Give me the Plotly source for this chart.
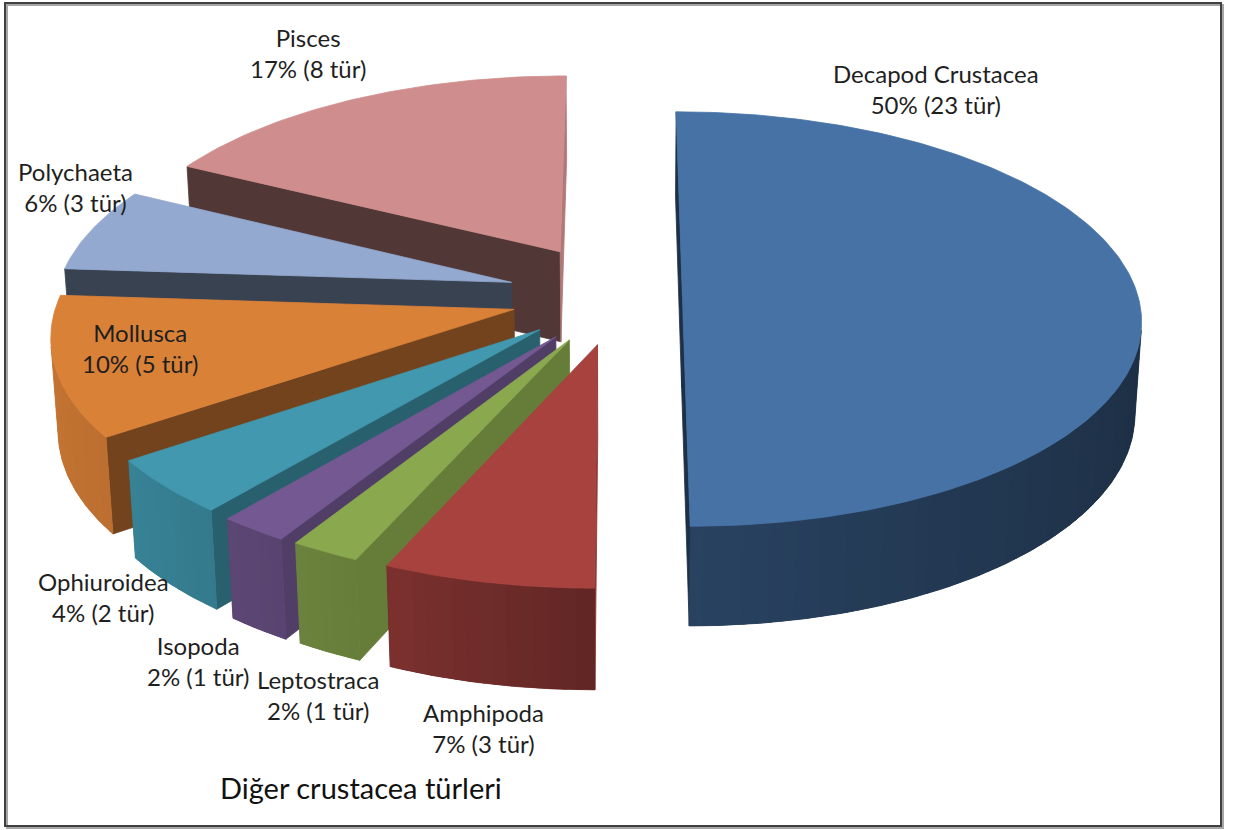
import numpy as np
import plotly.graph_objects as go

# ---------------- data ----------------
groups = ["Decapod Crustacea", "Amphipoda", "Leptostraca", "Isopoda",
          "Ophiuroidea", "Mollusca", "Polychaeta", "Pisces"]
species_count = [23, 3, 1, 1, 2, 5, 3, 8]
percent_text = ["50%", "7%", "2%", "2%", "4%", "10%", "6%", "17%"]
chart_title = "Diğer crustacea türleri"

# ---------------- style ----------------
top_colors = ["#4672A6", "#A7423F", "#8AA94F", "#735891",
              "#4198AF", "#DA8138", "#93A9CF", "#CF8E8D"]
explode = [0.137, 0.237, 0.236, 0.239, 0.237, 0.240, 0.249, 0.259]
label_xy = [(936, 89), (483, 728), (318, 695), (198, 661),
            (103, 597), (140, 348), (75, 187), (308, 53)]
title_xy = (361, 787)
FONT = "Lato"
TEXT_COLOR = "#1f1f1f"

# perspective camera for the tilted pie
ELEV = np.radians(26.7)
SE, CE = np.sin(ELEV), np.cos(ELEV)
DIST = 8.04
SCALE = 455.5
X0, Y0 = 620.0, 296.0
DEPTH = 0.228
CAM = np.array([0.0, DIST * SE, -DIST * CE])


def project(x, y, z):
    x, y, z = np.asarray(x, float), np.asarray(y, float), np.asarray(z, float)
    w = z * CE - y * SE
    v = y * CE + z * SE
    k = DIST / (DIST + w)
    return X0 + SCALE * x * k, Y0 - SCALE * v * k


def shade(hex_color, f):
    h = hex_color.lstrip("#")
    r, g, b = (int(h[i:i + 2], 16) for i in (0, 2, 4))
    return f"rgb({round(r * f)},{round(g * f)},{round(b * f)})"


def rim_factor(t_deg):
    t = t_deg % 360
    return float(np.interp(t, [150, 180, 215, 245, 270, 300, 330, 360],
                           [0.95, 0.92, 0.86, 0.75, 0.58, 0.50, 0.44, 0.40]))


def wall_factor(n_deg):
    n = n_deg % 360
    return float(np.interp(n, [0, 180, 245, 266, 305, 321, 329, 337, 360],
                           [0.85, 0.42, 0.39, 0.39, 0.52, 0.63, 0.71, 0.74, 0.85]))


def face_visible(normal, point):
    return float(np.dot(normal, point - CAM)) < 0


fig = go.Figure()


def add_poly(xs, ys, color, edge=0.8):
    fig.add_trace(go.Scatter(
        x=list(xs) + [xs[0]], y=list(ys) + [ys[0]], mode="lines",
        fill="toself", fillcolor=color,
        line=dict(color=color, width=edge),
        hoverinfo="skip", showlegend=False))


# slice angles: start at 12 o'clock, clockwise
total = float(sum(species_count))
slices = []
cum = 0.0
for i, val in enumerate(species_count):
    a_hi = 90.0 - cum / total * 360.0
    a_lo = a_hi - val / total * 360.0
    cum += val
    mid = np.radians((a_hi + a_lo) / 2)
    ox, oz = explode[i] * np.cos(mid), explode[i] * np.sin(mid)
    rep = np.array([ox + 0.6 * np.cos(mid), 0.0, oz + 0.6 * np.sin(mid)])
    slices.append(dict(i=i, a_lo=a_lo, a_hi=a_hi, ox=ox, oz=oz,
                       dist=np.linalg.norm(rep - CAM)))

# back-to-front drawing
for s in sorted(slices, key=lambda d: -d["dist"]):
    i, a_lo, a_hi, ox, oz = s["i"], s["a_lo"], s["a_hi"], s["ox"], s["oz"]
    col = top_colors[i]

    # radial cut walls
    for edge, ndir in ((a_hi, a_hi + 90.0), (a_lo, a_lo - 90.0)):
        e = np.radians(edge)
        nr = np.radians(ndir)
        normal = np.array([np.cos(nr), 0.0, np.sin(nr)])
        rx, rz = ox + np.cos(e), oz + np.sin(e)
        mid_pt = np.array([(ox + rx) / 2, -DEPTH / 2, (oz + rz) / 2])
        if face_visible(normal, mid_pt):
            xs3 = [ox, rx, rx, ox]
            ys3 = [0, 0, -DEPTH, -DEPTH]
            zs3 = [oz, rz, rz, oz]
            px, py = project(xs3, ys3, zs3)
            add_poly(px, py, shade(col, wall_factor(ndir)))

    # outer curved wall: a base band, then overlapping shaded strips on top
    ts = np.linspace(a_lo, a_hi, max(int((a_hi - a_lo) * 2), 4) + 1)
    vis = []
    for t in ts:
        tr = np.radians(t)
        normal = np.array([np.cos(tr), 0.0, np.sin(tr)])
        pt = np.array([ox + np.cos(tr), -DEPTH / 2, oz + np.sin(tr)])
        vis.append(face_visible(normal, pt))
    vis_idx = [j for j, v in enumerate(vis) if v]
    if len(vis_idx) >= 2:
        j0, j1 = vis_idx[0], vis_idx[-1]
        seg_all = np.radians(ts[j0:j1 + 1])
        xr, zr = ox + np.cos(seg_all), oz + np.sin(seg_all)
        tx, ty = project(xr, np.zeros_like(xr), zr)
        bx, by = project(xr, np.full_like(xr, -DEPTH), zr)
        add_poly(np.concatenate([tx, bx[::-1]]), np.concatenate([ty, by[::-1]]),
                 shade(col, rim_factor((ts[j0] + ts[j1]) / 2)))
        step = 3
        for j in range(j0, j1, step):
            k_end = min(j + step + 1, j1)
            seg = np.radians(ts[j:k_end + 1])
            xr, zr = ox + np.cos(seg), oz + np.sin(seg)
            tx, ty = project(xr, np.zeros_like(xr), zr)
            bx, by = project(xr, np.full_like(xr, -DEPTH), zr)
            add_poly(np.concatenate([tx, bx[::-1]]), np.concatenate([ty, by[::-1]]),
                     shade(col, rim_factor((ts[j] + ts[min(j + step, j1)]) / 2)),
                     edge=0)

    # top face
    arc = np.radians(np.linspace(a_lo, a_hi, max(int(a_hi - a_lo), 2) + 1))
    xr = np.concatenate([[ox], ox + np.cos(arc)])
    zr = np.concatenate([[oz], oz + np.sin(arc)])
    px, py = project(xr, np.zeros_like(xr), zr)
    add_poly(px, py, col)

# data labels
for i, name in enumerate(groups):
    lx, ly = label_xy[i]
    fig.add_annotation(
        x=lx, y=ly, xref="x", yref="y", showarrow=False, align="center",
        text=f"{name}<br>{percent_text[i]} ({species_count[i]} tür)",
        font=dict(family=FONT, size=24, color=TEXT_COLOR))

fig.add_annotation(
    x=title_xy[0], y=title_xy[1], xref="x", yref="y", showarrow=False,
    text=chart_title, font=dict(family=FONT, size=29, color="#111111"))

# chart frame with a soft shadow
fig.add_shape(type="rect", x0=7, y0=5, x1=1223, y1=828, xref="x", yref="y",
              line=dict(color="#a6a6a6", width=2), layer="below")
fig.add_shape(type="rect", x0=5, y0=3, x1=1221, y1=826, xref="x", yref="y",
              line=dict(color="#404040", width=2), layer="below")

fig.update_layout(
    width=1235, height=830, margin=dict(l=0, r=0, t=0, b=0),
    paper_bgcolor="white", plot_bgcolor="white", showlegend=False,
    xaxis=dict(range=[0, 1235], visible=False, fixedrange=True),
    yaxis=dict(range=[830, 0], visible=False, fixedrange=True),
)

fig.write_html("out.html")
